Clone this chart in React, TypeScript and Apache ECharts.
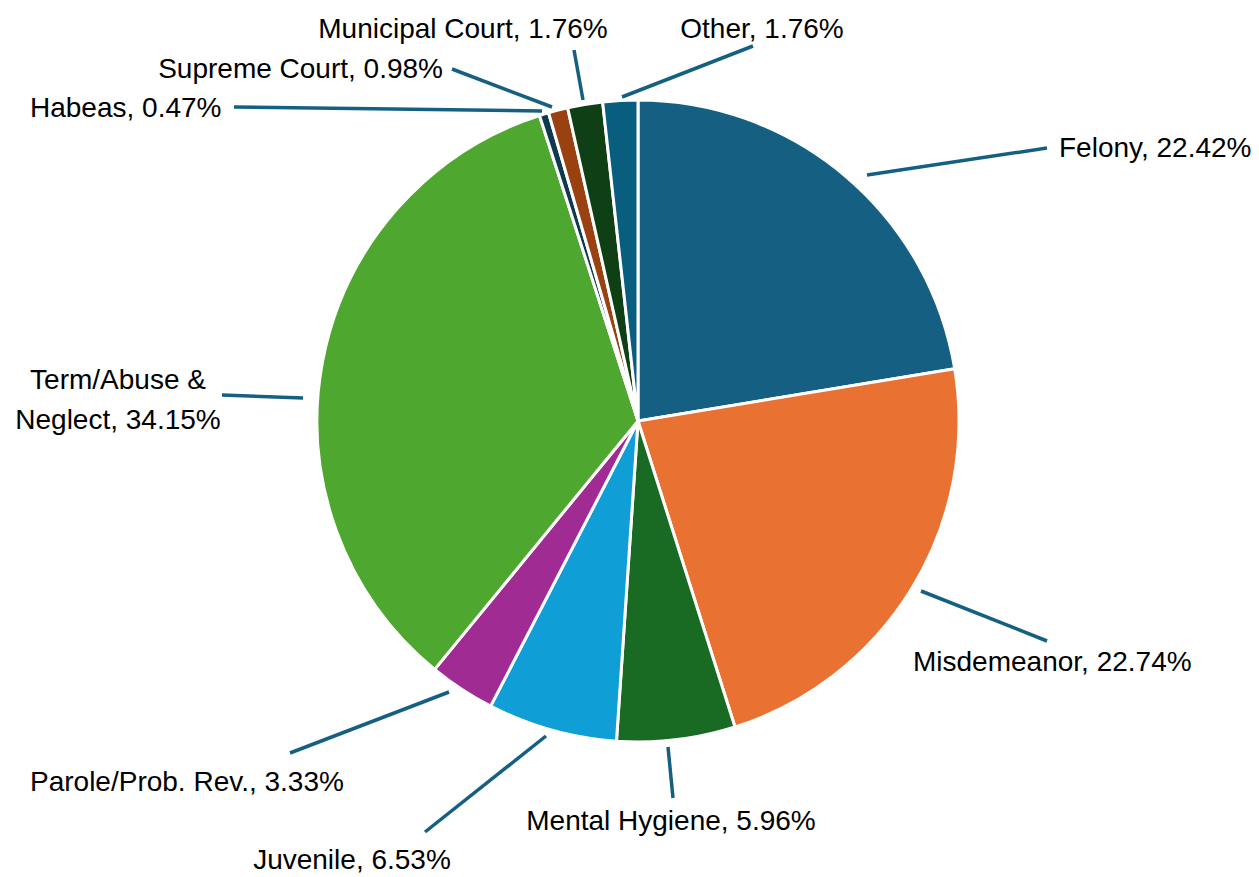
import React, { useEffect, useRef } from "react";
import * as echarts from "echarts";

// ---- Data ----
const categories = [
  "Felony",
  "Misdemeanor",
  "Mental Hygiene",
  "Juvenile",
  "Parole/Prob. Rev.",
  "Term/Abuse & Neglect",
  "Habeas",
  "Supreme Court",
  "Municipal Court",
  "Other",
];
const shares = [22.42, 22.74, 5.96, 6.53, 3.33, 34.15, 0.47, 0.98, 1.76, 1.76];

// ---- Styles ----
const sliceColors = [
  "#156082",
  "#E97132",
  "#196B24",
  "#0F9ED5",
  "#A02B93",
  "#4EA72E",
  "#0D3A4E",
  "#994111",
  "#0F4015",
  "#095E80",
];

// ---- Label layout (pixel positions of label text and leader lines) ----
type LabelPos = {
  x: number;
  y: number;
  align: "left" | "center" | "right";
  line: [number, number][];
  wrapAfter?: string;
};
const labelLayoutTable: LabelPos[] = [
  { x: 1059, y: 147, align: "left", line: [[867, 175], [1047, 148]] },
  { x: 913, y: 661, align: "left", line: [[921, 591], [1047, 641]] },
  { x: 671, y: 820, align: "center", line: [[668, 747], [673, 798]] },
  { x: 352, y: 859, align: "center", line: [[546, 736], [425, 832]] },
  { x: 30, y: 781, align: "left", line: [[449, 692], [290, 753]] },
  { x: 118, y: 399, align: "center", line: [[303, 398], [222, 395]], wrapAfter: "& " },
  { x: 30, y: 107, align: "left", line: [[542, 111], [234, 107]] },
  { x: 443, y: 68, align: "right", line: [[552, 107], [452, 69]] },
  { x: 463, y: 28, align: "center", line: [[583, 100], [574, 50]] },
  { x: 762, y: 28, align: "center", line: [[622, 97], [753, 46]] },
];

export default function App() {
  const ref = useRef<HTMLDivElement>(null);

  useEffect(() => {
    if (!ref.current) return;
    const chart = echarts.init(ref.current, undefined, { renderer: "svg" });

    const data = categories.map((name, i) => ({
      name,
      value: shares[i],
      itemStyle: { color: sliceColors[i] },
    }));

    chart.setOption({
      animation: false,
      backgroundColor: "#ffffff",
      series: [
        {
          type: "pie",
          center: [638, 421],
          radius: 321,
          startAngle: 90,
          clockwise: true,
          avoidLabelOverlap: false,
          data,
          itemStyle: { borderColor: "#ffffff", borderWidth: 3 },
          label: {
            show: true,
            position: "outside",
            width: 420,
            overflow: "none",
            fontFamily: "Liberation Sans",
            fontSize: 28,
            lineHeight: 40,
            color: "#000000",
            formatter: (p: any) => {
              const cfg = labelLayoutTable[p.dataIndex];
              let name: string = p.name;
              if (cfg && cfg.wrapAfter) name = name.replace(cfg.wrapAfter, cfg.wrapAfter.trim() + "\n");
              return `${name}, ${Number(p.value).toFixed(2)}%`;
            },
          },
          labelLine: {
            show: true,
            length: 20,
            length2: 20,
            lineStyle: { color: "#156082", width: 3.5 },
          },
          labelLayout: (params: any) => {
            const cfg = labelLayoutTable[params.dataIndex];
            return {
              x: cfg.x,
              y: cfg.y,
              align: cfg.align,
              verticalAlign: "middle",
              labelLinePoints: cfg.line,
            };
          },
          emphasis: { disabled: true },
        },
      ],
    });

    return () => chart.dispose();
  }, []);

  return (
    <div
      ref={ref}
      style={{ position: "absolute", left: 0, top: 0, width: 1259, height: 877 }}
    />
  );
}
